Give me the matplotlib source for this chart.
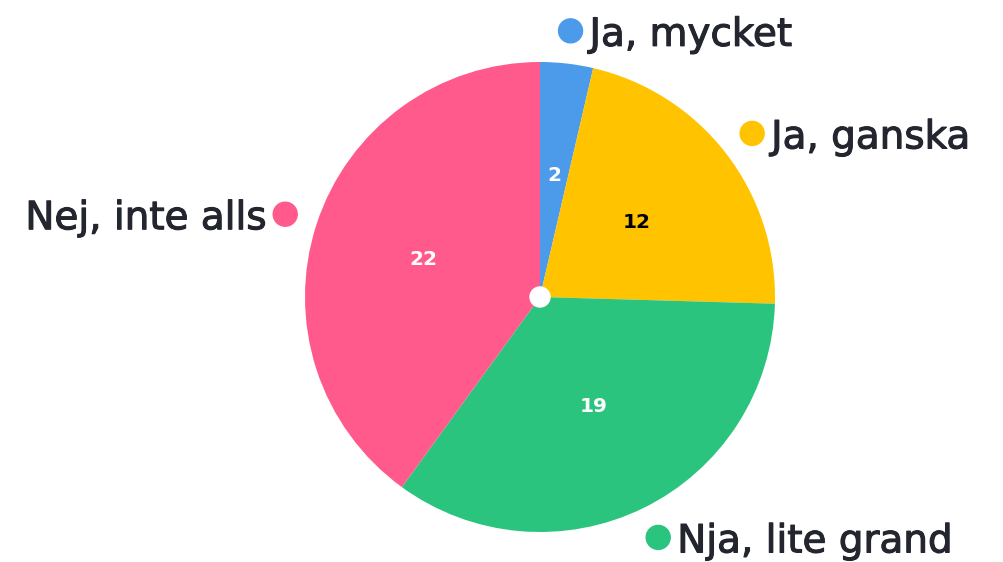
import numpy as np
import matplotlib.pyplot as plt
import matplotlib.patheffects as pe
from matplotlib.patches import Circle

# data
labels = ["Ja, mycket", "Ja, ganska", "Nja, lite grand", "Nej, inte alls"]
values = [2, 12, 19, 22]
colors = ["#4c9bea", "#ffc300", "#2bc47f", "#ff5a8b"]
value_colors = ["white", "black", "white", "white"]

text_dark = "#23252f"

fig = plt.figure(figsize=(10.04, 5.62), dpi=100)
ax = fig.add_axes([0, 0, 1, 1])

cx, cy = 540, 265
R = 235

wedges, _ = ax.pie(values, colors=colors, startangle=90, counterclock=False,
                   radius=R, center=(cx, cy), frame=True,
                   wedgeprops=dict(linewidth=0))
ax.set_xlim(0, 1004)
ax.set_ylim(0, 562)
ax.set_aspect("equal")
ax.axis("off")

# slightly heavier label text (medium weight look)
thick = [pe.withStroke(linewidth=0.8, foreground=text_dark)]

for w, lab, val, vc, col in zip(wedges, labels, values, value_colors, colors):
    ang = np.deg2rad((w.theta1 + w.theta2) / 2)
    # value inside the slice
    ax.text(cx + 0.52 * R * np.cos(ang), cy + 0.52 * R * np.sin(ang), str(val),
            ha="center", va="center", color=vc, fontsize=14.5, fontweight="bold",
            family="DejaVu Sans")
    # outer dot + label
    dx = cx + 1.14 * R * np.cos(ang)
    dy = cy + 1.14 * R * np.sin(ang)
    ax.add_patch(Circle((dx, dy), 12, color=col, zorder=3))
    if np.cos(ang) >= 0:
        ax.text(dx + 19, dy, lab, ha="left", va="center_baseline", fontsize=28,
                color=text_dark, family="DejaVu Sans", path_effects=thick)
    else:
        ax.text(dx - 19, dy, lab, ha="right", va="center_baseline", fontsize=28,
                color=text_dark, family="DejaVu Sans", path_effects=thick)

ax.add_patch(Circle((cx, cy), 10, color="white", zorder=4))

fig.savefig("out.png", dpi=100)
